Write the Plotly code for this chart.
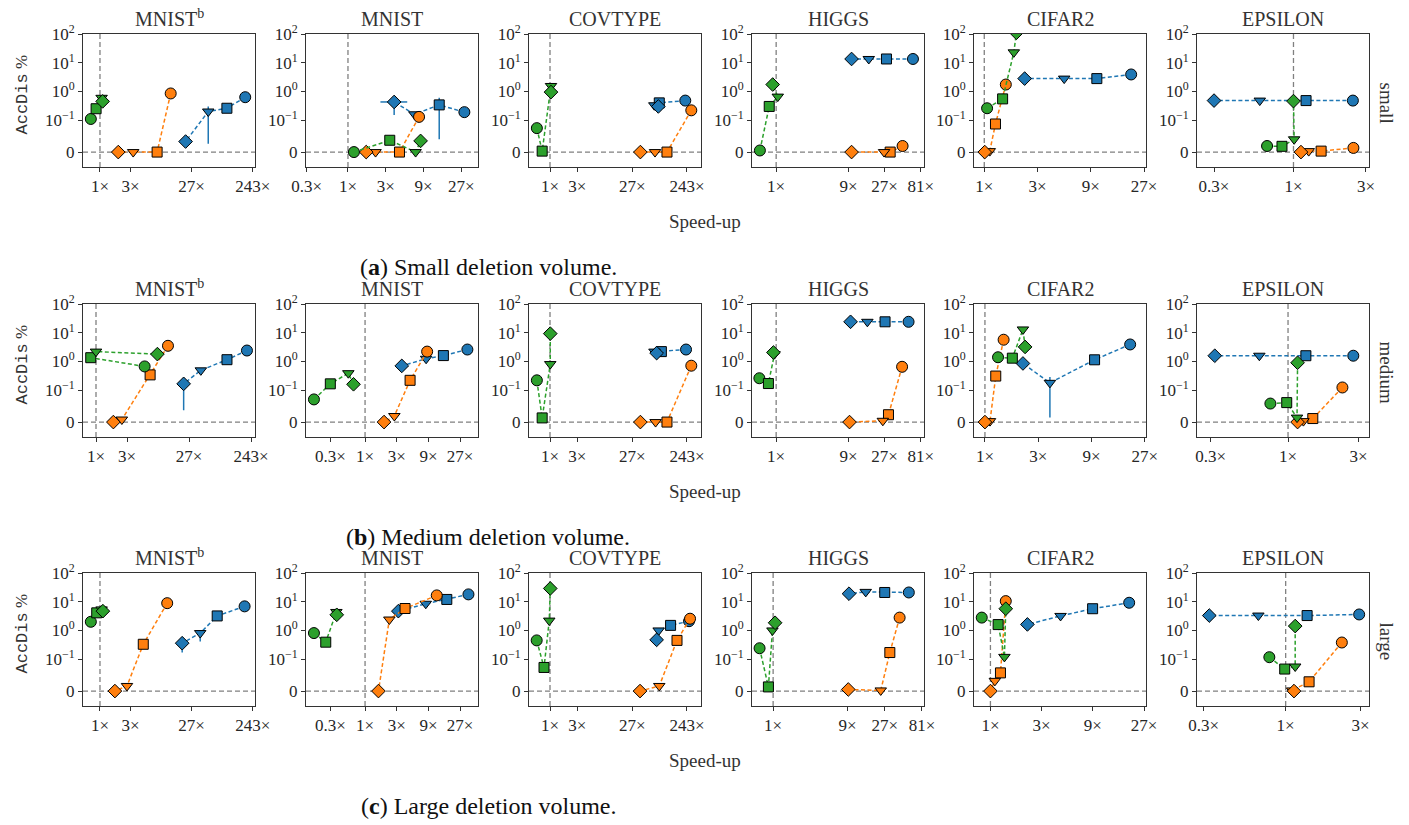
import numpy as np
import plotly.graph_objects as go

# ---------------- data ----------------
DATASETS = ["MNIST<sup>b</sup>", "MNIST", "COVTYPE", "HIGGS", "CIFAR2", "EPSILON"]
VOLUMES = ["small", "medium", "large"]
CAPTIONS = ["(<b>a</b>) Small deletion volume.",
            "(<b>b</b>) Medium deletion volume.",
            "(<b>c</b>) Large deletion volume."]
MARKERS = ["circle", "square", "triangle-down", "diamond"]  # point order in every series

X_TICKS = [[1, 3, 27, 243], [0.3, 1, 3, 9, 27], [1, 3, 27, 243],
           [1, 9, 27, 81], [1, 3, 9, 27], [0.3, 1, 3]]
Y_TICKS = [0, 0.1, 1, 10, 100]
Y_TICKTEXT = ["0", "10<sup>\u22121</sup>", "10<sup>0</sup>", "10<sup>1</sup>", "10<sup>2</sup>"]

# speed-up (x) and AccDis % (y): per dataset, points [circle, square, triangle, diamond]
SMALL_BLUE_SPEEDUP = [[185, 95.8, 49, 21.7], [29.5, 14.2, 6.9, 3.83], [227, 80, 65.6, 77],
                      [64, 28.6, 16.7, 9.9], [20.7, 10.2, 5.2, 2.3], [2.46, 1.21, 0.60, 0.30]]
SMALL_BLUE_ACCDIS = [[0.63, 0.26, 0.2, 0.033], [0.19, 0.34, 0.16, 0.43], [0.48, 0.4, 0.33, 0.3],
                     [13.5, 13.5, 13.5, 13.5], [3.9, 2.8, 2.8, 2.8], [0.48, 0.48, 0.48, 0.48]]
SMALL_ORANGE_SPEEDUP = [[12.7, 7.8, 3.3, 1.93], [7.9, 4.47, 2.23, 1.70], [289, 109, 67.5, 37.5],
                        [46.7, 32, 26.6, 9.9], [1.56, 1.26, 1.12, 1.01], [2.48, 1.52, 1.26, 1.12]]
SMALL_ORANGE_ACCDIS = [[0.85, 0, 0, 0], [0.13, 0, 0, 0], [0.22, 0, 0, 0],
                       [0.019, 0, 0, 0], [1.74, 0.088, 0.003, 0], [0.013, 0.003, 0.003, 0]]
SMALL_GREEN_SPEEDUP = [[0.72, 0.87, 1.06, 1.1], [1.19, 3.37, 7.15, 8.26], [0.59, 0.73, 1.04, 1.04],
                       [0.61, 0.81, 1.05, 0.9], [1.06, 1.46, 1.84, 1.94], [0.67, 0.84, 1.01, 1.0]]
SMALL_GREEN_ACCDIS = [[0.11, 0.25, 0.6, 0.45], [0, 0.037, 0, 0.035], [0.075, 0.003, 1.55, 0.95],
                      [0.005, 0.3, 0.66, 1.74], [0.26, 0.55, 23, 110], [0.019, 0.018, 0.04, 0.46]]

MEDIUM_BLUE_SPEEDUP = [[210, 103.5, 41, 22.3], [34.7, 15.1, 8.3, 3.57], [234, 87, 66, 72],
                       [56, 27.4, 16, 9.6], [20, 9.6, 3.82, 2.19], [2.76, 1.32, 0.64, 0.32]]
MEDIUM_BLUE_ACCDIS = [[2.4, 1.15, 0.49, 0.166], [2.6, 1.6, 1.24, 0.7], [2.6, 2.2, 2.2, 1.95],
                      [24, 24, 24, 24], [3.9, 1.14, 0.18, 0.85], [1.58, 1.58, 1.58, 1.58]]
MEDIUM_ORANGE_SPEEDUP = [[12.8, 6.8, 2.5, 1.85], [8.6, 4.76, 2.76, 1.93], [289, 109, 69, 37.5],
                         [46, 30.4, 25.6, 9.3], [1.47, 1.25, 1.11, 1.0], [2.33, 1.47, 1.27, 1.16]]
MEDIUM_ORANGE_ACCDIS = [[3.5, 0.34, 0.008, 0], [2.2, 0.22, 0.019, 0], [0.71, 0, 0, 0],
                        [0.65, 0.023, 0.004, 0], [5.7, 0.31, 0.003, 0], [0.124, 0.011, 0.003, 0]]
MEDIUM_GREEN_SPEEDUP = [[5.6, 0.83, 1.0, 8.8], [0.17, 0.30, 0.56, 0.67], [0.59, 0.73, 1.01, 1.01],
                        [0.6, 0.79, 0.95, 0.92], [1.31, 1.76, 2.19, 2.29], [0.76, 0.98, 1.15, 1.16]]
MEDIUM_GREEN_ACCDIS = [[0.67, 1.35, 2.2, 1.8], [0.071, 0.166, 0.39, 0.16], [0.22, 0.013, 0.81, 9.3],
                       [0.26, 0.17, 1.8, 2.05], [1.4, 1.3, 13, 3.2], [0.058, 0.061, 0.014, 0.9]]

LARGE_BLUE_SPEEDUP = [[181, 67.6, 36.7, 19.2], [36, 17, 8.2, 3.17], [264, 126, 78, 72],
                      [55, 27, 15.4, 9.4], [19.6, 8.95, 4.5, 2.21], [2.94, 1.37, 0.67, 0.326]]
LARGE_BLUE_ACCDIS = [[6.9, 3.2, 0.81, 0.36], [18, 12, 8.5, 4.7], [2.1, 1.5, 1.0, 0.47],
                     [21, 21, 22, 19], [9.2, 5.7, 3.2, 1.62], [3.6, 3.3, 3.3, 3.3]]
LARGE_ORANGE_SPEEDUP = [[11.2, 4.74, 2.64, 1.71], [12, 4.0, 2.32, 1.59], [275, 163, 80, 37],
                        [41.9, 31.4, 24, 9.2], [1.39, 1.24, 1.1, 1.0], [2.28, 1.41, 1.1, 1.13]]
LARGE_ORANGE_ACCDIS = [[8.9, 0.33, 0.016, 0], [16.6, 5.8, 2.4, 0], [2.56, 0.45, 0.016, 0],
                       [2.8, 0.17, 0.002, 0.005], [10.5, 0.057, 0.032, 0], [0.38, 0.029, 0.002, 0]]
LARGE_GREEN_SPEEDUP = [[0.72, 0.89, 1.06, 1.11], [0.17, 0.256, 0.37, 0.375], [0.586, 0.786, 0.97, 1.01],
                       [0.67, 0.87, 0.98, 1.06], [0.83, 1.18, 1.35, 1.39], [0.787, 0.986, 1.15, 1.15]]
LARGE_GREEN_ACCDIS = [[2.0, 4.1, 5.4, 4.7], [0.81, 0.39, 4.4, 3.5], [0.45, 0.074, 2.2, 29],
                      [0.24, 0.013, 1.0, 1.85], [2.8, 1.6, 0.12, 5.7], [0.117, 0.069, 0.077, 1.42]]

# blue error bars: (volume, dataset, point) -> (low, high)
BLUE_Y_ERR = {(0, 0, 2): (0.026, 0.3), (0, 1, 3): (0.15, 0.68), (0, 1, 1): (0.04, 0.6),
              (1, 0, 3): (0.037, 0.166), (1, 4, 2): (0.014, 0.29),
              (2, 0, 3): (0.17, 0.36), (2, 0, 2): (0.41, 0.81)}
BLUE_X_ERR = {(0, 1, 3): (2.57, 5.6)}

SERIES = {
    "small": [("blue", SMALL_BLUE_SPEEDUP, SMALL_BLUE_ACCDIS),
              ("orange", SMALL_ORANGE_SPEEDUP, SMALL_ORANGE_ACCDIS),
              ("green", SMALL_GREEN_SPEEDUP, SMALL_GREEN_ACCDIS)],
    "medium": [("blue", MEDIUM_BLUE_SPEEDUP, MEDIUM_BLUE_ACCDIS),
               ("orange", MEDIUM_ORANGE_SPEEDUP, MEDIUM_ORANGE_ACCDIS),
               ("green", MEDIUM_GREEN_SPEEDUP, MEDIUM_GREEN_ACCDIS)],
    "large": [("blue", LARGE_BLUE_SPEEDUP, LARGE_BLUE_ACCDIS),
              ("orange", LARGE_ORANGE_SPEEDUP, LARGE_ORANGE_ACCDIS),
              ("green", LARGE_GREEN_SPEEDUP, LARGE_GREEN_ACCDIS)],
}

# ---------------- style / layout ----------------
COLORS = {"blue": "#1f77b4", "orange": "#ff7f0e", "green": "#2ca02c"}
W, H = 1409, 825
PAGE_OFFSET = 8  # the page body margin shifts the figure by this many pixels
LEFTS = [83, 306, 529, 752, 974, 1197]
PW = 172
TOPS = [34, 304, 573]
PH = 133
X_RANGES = [
    [[-0.265, 2.42], [-0.53, 1.642], [-0.366, 2.63], [-0.319, 1.952], [-0.092, 1.449], [-0.635, 0.497]],
    [[-0.2, 2.446], [-0.889, 1.70], [-0.366, 2.63], [-0.319, 1.952], [-0.098, 1.443], [-0.615, 0.547]],
    [[-0.265, 2.42], [-0.889, 1.70], [-0.366, 2.63], [-0.271, 1.935], [-0.153, 1.449], [-0.565, 0.531]],
]
SERIF = "Liberation Serif, DejaVu Serif, serif"
TXT = "#262626"


def px(xp):
    return (xp - PAGE_OFFSET) / W


def py(yp):
    return 1 - (yp - PAGE_OFFSET) / H


LINTHRESH = 0.1
LINSCALE = 1.0 / (1 - 1 / 10)


def symlog(v):
    v = np.asarray(v, dtype=float)
    a = np.abs(v)
    out = np.where(a <= LINTHRESH, a / LINTHRESH * LINSCALE,
                   LINSCALE + np.log10(np.maximum(a, LINTHRESH) / LINTHRESH))
    return np.sign(v) * out


def fmt_tick(t):
    return ("%g" % t) + "\u00d7"


Y_RANGE = [-0.52, LINSCALE + 3]
SIZES = [11, 10, 10, 10.5]

fig = go.Figure()
layout = dict(width=W, height=H, margin=dict(l=0, r=0, t=0, b=0, pad=0, autoexpand=False),
              paper_bgcolor="white", plot_bgcolor="white", showlegend=False)
shapes = []
annotations = []

for r, vol in enumerate(VOLUMES):
    for c, ds in enumerate(DATASETS):
        k = r * 6 + c + 1
        xs = "" if k == 1 else str(k)
        xname, yname = "x" + xs, "y" + xs
        left, top = LEFTS[c], TOPS[r]
        layout["xaxis" + xs] = dict(
            domain=[px(left), px(left + PW)], anchor=yname, type="log", automargin=False,
            range=X_RANGES[r][c], tickvals=X_TICKS[c], ticktext=[fmt_tick(t) for t in X_TICKS[c]],
            ticks="outside", ticklen=4, tickwidth=1, tickcolor="#333",
            showline=True, linecolor="#333", linewidth=1, mirror=True,
            showgrid=False, zeroline=False,
            tickfont=dict(family=SERIF, size=17, color=TXT))
        layout["yaxis" + xs] = dict(
            domain=[py(top + PH), py(top)], anchor=xname, automargin=False,
            range=Y_RANGE, tickvals=list(symlog(Y_TICKS)), ticktext=Y_TICKTEXT,
            ticks="outside", ticklen=4, tickwidth=1, tickcolor="#333",
            showline=True, linecolor="#333", linewidth=1, mirror=True,
            showgrid=False, zeroline=False,
            tickfont=dict(family=SERIF, size=17, color=TXT))
        # reference lines
        shapes.append(dict(type="line", xref=xname + " domain", x0=0, x1=1, yref=yname, y0=0, y1=0,
                           line=dict(color="#808080", width=1.3, dash="5px,3px"), layer="below"))
        shapes.append(dict(type="line", xref=xname, x0=1, x1=1, yref=yname + " domain", y0=0, y1=1,
                           line=dict(color="#808080", width=1.3, dash="5px,3px"), layer="below"))
        # title
        annotations.append(dict(text=ds, xref="paper", yref="paper", x=px(left + PW / 2),
                                y=py(top - 2), xanchor="center", yanchor="bottom",
                                showarrow=False, font=dict(family=SERIF, size=20, color="#333")))

        for name, SX, SY in SERIES[vol]:
            x = SX[c]
            y = SY[c]
            ty = symlog(y)
            trace = dict(x=x, y=ty, mode="lines+markers", xaxis=xname, yaxis=yname, opacity=1,
                         line=dict(color=COLORS[name], width=1.5, dash="4px,2.5px"),
                         marker=dict(symbol=MARKERS, size=SIZES, color=COLORS[name], opacity=1,
                                     line=dict(color="black", width=1)),
                         cliponaxis=True, hoverinfo="skip")
            if name == "blue":
                up, dn, xup, xdn = [], [], [], []
                has_y = has_x = False
                for i in range(4):
                    if (r, c, i) in BLUE_Y_ERR:
                        lo, hi = BLUE_Y_ERR[(r, c, i)]
                        dn.append(float(ty[i] - symlog(lo)))
                        up.append(float(symlog(hi) - ty[i]))
                        has_y = True
                    else:
                        dn.append(0.0)
                        up.append(0.0)
                    if (r, c, i) in BLUE_X_ERR:
                        lo, hi = BLUE_X_ERR[(r, c, i)]
                        xdn.append(x[i] - lo)
                        xup.append(hi - x[i])
                        has_x = True
                    else:
                        xdn.append(0.0)
                        xup.append(0.0)
                if has_y:
                    trace["error_y"] = dict(type="data", symmetric=False, array=up, arrayminus=dn,
                                            color=COLORS[name], thickness=1.5, width=0)
                if has_x:
                    trace["error_x"] = dict(type="data", symmetric=False, array=xup, arrayminus=xdn,
                                            color=COLORS[name], thickness=1.5, width=0)
            fig.add_trace(go.Scatter(**trace))

    rc = TOPS[r] + PH / 2
    # y label
    annotations.append(dict(
        text="<span style='font-family:Liberation Mono, DejaVu Sans Mono, monospace'>AccDis</span> %",
        xref="paper", yref="paper", x=px(21), y=py(rc - 6), textangle=-90,
        xanchor="center", yanchor="middle", showarrow=False,
        font=dict(family=SERIF, size=17, color="#333")))
    # right-side volume label
    annotations.append(dict(text=vol, xref="paper", yref="paper", x=px(1386), y=py(rc + 2),
                            textangle=90, xanchor="center", yanchor="middle", showarrow=False,
                            font=dict(family=SERIF, size=19, color="#333")))
    # x label
    annotations.append(dict(text="Speed-up", xref="paper", yref="paper", x=px(705),
                            y=py(TOPS[r] + PH + 54), xanchor="center", yanchor="middle",
                            showarrow=False, font=dict(family=SERIF, size=19, color="#333")))
    # caption
    annotations.append(dict(text=CAPTIONS[r], xref="paper", yref="paper", x=px(488),
                            y=py(TOPS[r] + 233), xanchor="center", yanchor="middle",
                            showarrow=False, font=dict(family=SERIF, size=24, color="#111")))

layout["shapes"] = shapes
layout["annotations"] = annotations
fig.update_layout(**layout)
fig.write_html("out.html")
